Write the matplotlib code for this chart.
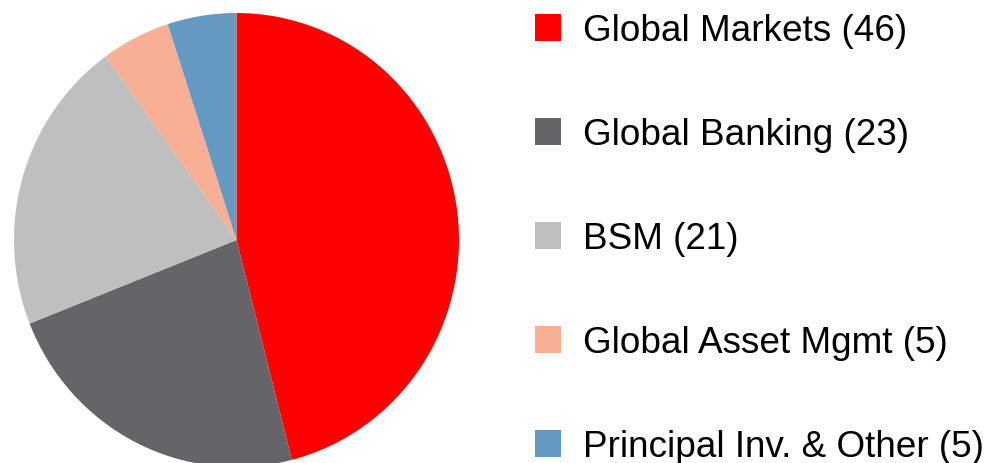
import matplotlib.pyplot as plt
from matplotlib.patches import Rectangle

labels = ["Global Markets", "Global Banking", "BSM", "Global Asset Mgmt", "Principal Inv. & Other"]
values = [46, 23, 21, 5, 5]
colors = ["#FF0000", "#646469", "#BFBFBF", "#F9AF93", "#6699C2"]

W, H = 992, 463
fig = plt.figure(figsize=(W / 100, H / 100), dpi=100)

# pie axes, placed in pixels (slightly taller than wide, as in the original)
ax = fig.add_axes([14 / W, -4 / H, 445 / W, 454 / H])
ax.pie(values, colors=colors, startangle=90, counterclock=False,
       wedgeprops=dict(linewidth=0))
ax.set_aspect("auto")
ax.set_xlim(-1, 1)
ax.set_ylim(-1, 1)
ax.axis("off")

# legend drawn by hand
row0, step = 27.5, 104
for i, (lab, val, col) in enumerate(zip(labels, values, colors)):
    yc = row0 + step * i
    fig.patches.append(Rectangle((535 / W, (H - yc - 13.5) / H), 26 / W, 27 / H,
                                 transform=fig.transFigure, facecolor=col,
                                 edgecolor="none"))
    fig.text(583 / W, (H - yc - 13.5) / H, f"{lab} ({val})", fontsize=26.6,
             family="Liberation Sans", color="black", va="baseline", ha="left")

fig.savefig("out.png", dpi=100)
